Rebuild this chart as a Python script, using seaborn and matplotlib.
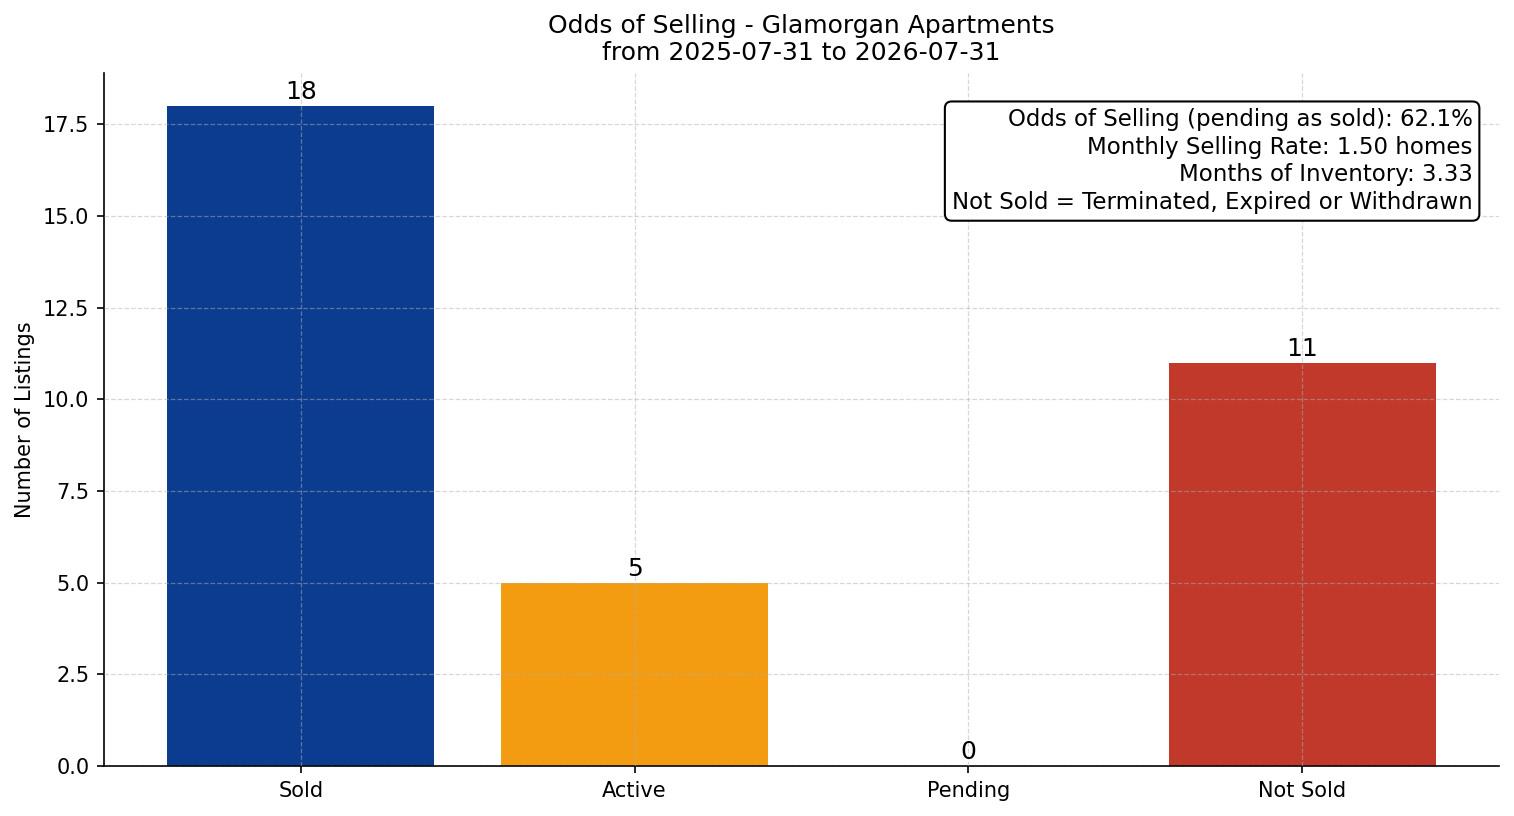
import matplotlib
matplotlib.use('Agg')
import matplotlib.pyplot as plt
import seaborn as sns
import pandas as pd

# Data
categories = ['Sold', 'Active', 'Pending', 'Not Sold']
counts = [18, 5, 0, 11]
bar_colors = ['#0B3C8F', '#F39C12', '#2980B9', '#C0392B']

title_text = 'Odds of Selling - Glamorgan Apartments\nfrom 2025-07-31 to 2026-07-31'
stats_lines = [
    'Odds of Selling (pending as sold): 62.1%',
    'Monthly Selling Rate: 1.50 homes',
    'Months of Inventory: 3.33',
    'Not Sold = Terminated, Expired or Withdrawn',
]

df = pd.DataFrame({'status': categories, 'count': counts})

sns.set_style('ticks')
plt.rcParams['font.family'] = ['DejaVu Sans']
plt.rcParams['text.color'] = 'black'
plt.rcParams['axes.labelcolor'] = 'black'

dpi = 150
fig, ax = plt.subplots(figsize=(1514 / dpi, 816 / dpi), dpi=dpi)
fig.subplots_adjust(left=104 / 1514, right=1499 / 1514, top=1 - 73 / 816, bottom=1 - 766 / 816)

sns.barplot(data=df, x='status', y='count', hue='status', order=categories,
            hue_order=categories, palette=dict(zip(categories, bar_colors)),
            saturation=1, width=0.8, linewidth=0, legend=False, ax=ax)

for c in ax.containers:
    ax.bar_label(c, fontsize=12, padding=1, color='black')

ax.set_xlim(-0.59, len(categories) - 1 + 0.59)
ax.set_ylim(0, max(counts) * 1.05)
ax.set_title(title_text, fontsize=12, color='black')
ax.set_xlabel('')
ax.set_ylabel('Number of Listings', fontsize=10)
ax.tick_params(labelsize=10, colors='black')

ax.set_axisbelow(False)
ax.grid(True, linestyle='--', color='#b0b0b0', alpha=0.5, linewidth=0.6)
sns.despine(ax=ax)
for s in ['left', 'bottom']:
    ax.spines[s].set_color('black')

ax.text(0.981, 0.949, '\n'.join(stats_lines), transform=ax.transAxes,
        ha='right', va='top', fontsize=11, color='black', linespacing=1.25,
        bbox=dict(boxstyle='round', facecolor='white', edgecolor='black'))

fig.savefig('out.png', dpi=dpi)
